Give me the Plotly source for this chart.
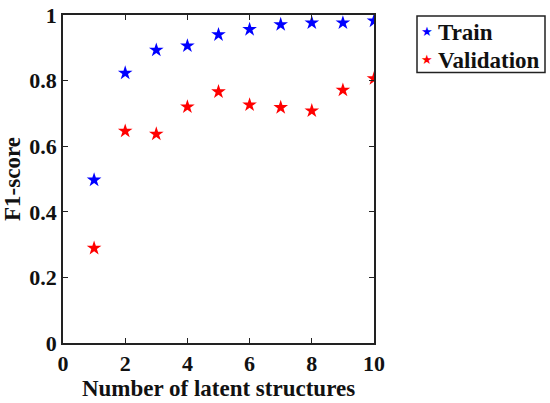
import plotly.graph_objects as go

# Number of latent structures
n_latent = [1, 2, 3, 4, 5, 6, 7, 8, 9, 10]
train_f1 = [0.497, 0.823, 0.893, 0.906, 0.940, 0.956, 0.971, 0.976, 0.976, 0.982]
val_f1 = [0.289, 0.646, 0.637, 0.720, 0.766, 0.726, 0.718, 0.708, 0.771, 0.806]
series_names = ["Train", "Validation"]
series_colors = ["blue", "red"]

W, H = 550, 403
L, R, T, B = 63, 176, 15, 60

title_font = dict(family="Liberation Serif", size=23, color="#111", weight="bold")
tick_font = dict(title_font, size=22)

fig = go.Figure()
for name, vals, col in zip(series_names, [train_f1, val_f1], series_colors):
    fig.add_trace(go.Scatter(x=n_latent, y=vals, mode="markers", name=name,
                             marker=dict(symbol="star", size=11, color=col),
                             showlegend=False))

axis_style = dict(showgrid=False, zeroline=False, showline=True, linecolor="#222",
                  linewidth=1.5, mirror="ticks", ticks="inside", ticklen=5,
                  tickcolor="#222", tickfont=tick_font, automargin=False,
                  ticklabeloverflow="allow")

fig.update_xaxes(range=[0, 10], tickvals=[0, 2, 4, 6, 8, 10],
                 title=dict(text="Number of latent structures", font=title_font, standoff=2),
                 **axis_style)
fig.update_yaxes(range=[0, 1], tickvals=[0, 0.2, 0.4, 0.6, 0.8, 1],
                 ticktext=["0", "0.2", "0.4", "0.6", "0.8", "1"],
                 title=dict(text="F1-score", font=title_font, standoff=8),
                 **axis_style)

# legend box drawn by hand (MATLAB-style compact legend), pixel -> paper
pw, ph = W - L - R, H - T - B
px = lambda v: (v - L) / pw
py = lambda v: (H - B - v) / ph

fig.add_shape(type="rect", xref="paper", yref="paper",
              x0=px(417), x1=px(545), y0=py(72.5), y1=py(16),
              line=dict(color="#222", width=1.5), fillcolor="white")
for i, (name, col) in enumerate(zip(series_names, series_colors)):
    yc = 31.5 + i * 27.5
    fig.add_annotation(xref="paper", yref="paper", x=px(427), y=py(yc),
                       text="★", showarrow=False, xanchor="center", yanchor="middle",
                       font=dict(family="DejaVu Sans", size=13, color=col))
    fig.add_annotation(xref="paper", yref="paper", x=px(436), y=py(yc + 1),
                       text=name, showarrow=False, xanchor="left", yanchor="middle",
                       font=title_font)

fig.update_layout(
    width=W, height=H,
    paper_bgcolor="white", plot_bgcolor="white",
    margin=dict(l=L, r=R, t=T, b=B, autoexpand=False),
    showlegend=False,
)

# drop the default 8px page margin so the figure fills the window
fig.write_html("out.html", config={"displayModeBar": False},
               post_script="document.body.style.margin='0';")
